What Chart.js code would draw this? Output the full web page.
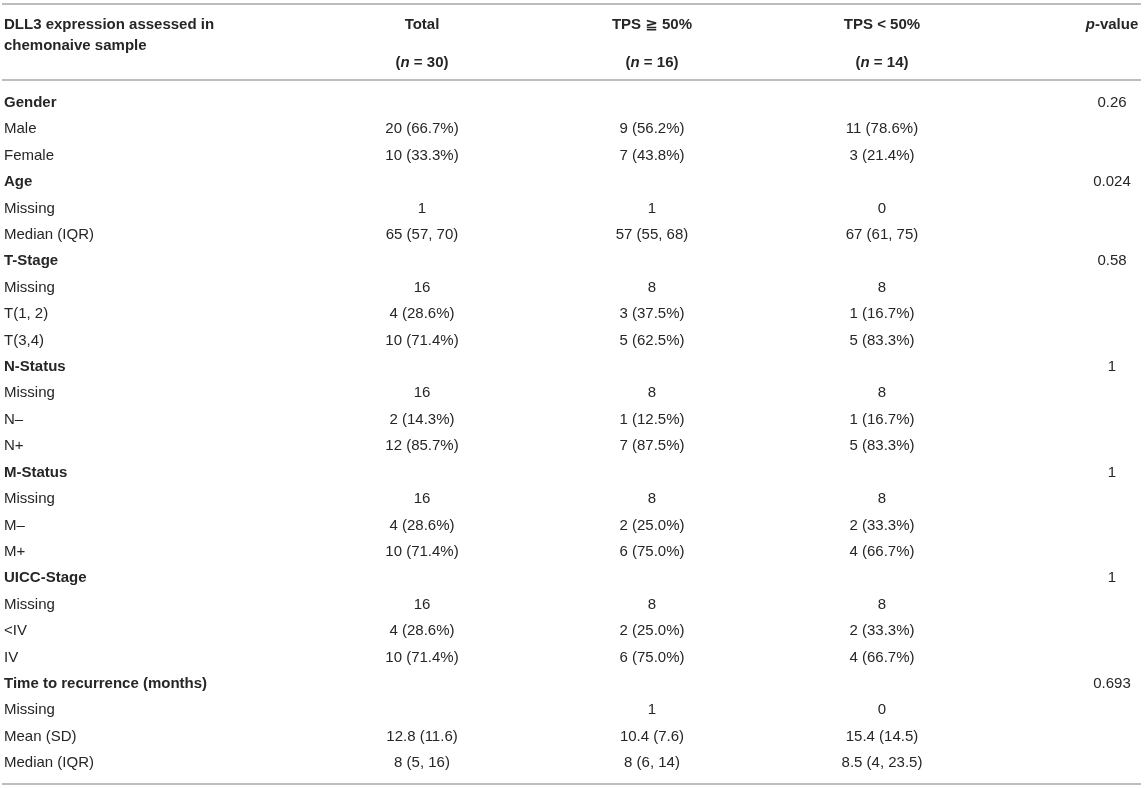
<!DOCTYPE html>
<html>
<head>
<meta charset="utf-8">
<script src="https://cdn.jsdelivr.net/npm/chart.js@4.4.1/dist/chart.umd.min.js"></script>
<style>
  html, body { margin: 0; padding: 0; background: #ffffff; overflow: hidden; }
  #wrap { width: 1145px; height: 788px; position: relative; }
  #c { display: block; width: 1145px; height: 788px; }
</style>
</head>
<body>
<div id="wrap"><canvas id="c" width="1145" height="788"></canvas></div>
<script>
// ---------- DATA ----------
const headerLabel = ['DLL3 expression assessed in', 'chemonaive sample'];
const columnTitles = ['Total', 'TPS \u2267 50%', 'TPS < 50%', '*p*-value'];
const columnCounts = ['(*n* = 30)', '(*n* = 16)', '(*n* = 14)', ''];

const rowLabels = [
  'Gender', 'Male', 'Female',
  'Age', 'Missing', 'Median (IQR)',
  'T-Stage', 'Missing', 'T(1, 2)', 'T(3,4)',
  'N-Status', 'Missing', 'N\u2013', 'N+',
  'M-Status', 'Missing', 'M\u2013', 'M+',
  'UICC-Stage', 'Missing', '<IV', 'IV',
  'Time to recurrence (months)', 'Missing', 'Mean (SD)', 'Median (IQR)'
];
const groupRows = [
  true, false, false,
  true, false, false,
  true, false, false, false,
  true, false, false, false,
  true, false, false, false,
  true, false, false, false,
  true, false, false, false
];
const totalValues = [
  '', '20 (66.7%)', '10 (33.3%)',
  '', '1', '65 (57, 70)',
  '', '16', '4 (28.6%)', '10 (71.4%)',
  '', '16', '2 (14.3%)', '12 (85.7%)',
  '', '16', '4 (28.6%)', '10 (71.4%)',
  '', '16', '4 (28.6%)', '10 (71.4%)',
  '', '', '12.8 (11.6)', '8 (5, 16)'
];
const tpsHighValues = [
  '', '9 (56.2%)', '7 (43.8%)',
  '', '1', '57 (55, 68)',
  '', '8', '3 (37.5%)', '5 (62.5%)',
  '', '8', '1 (12.5%)', '7 (87.5%)',
  '', '8', '2 (25.0%)', '6 (75.0%)',
  '', '8', '2 (25.0%)', '6 (75.0%)',
  '', '1', '10.4 (7.6)', '8 (6, 14)'
];
const tpsLowValues = [
  '', '11 (78.6%)', '3 (21.4%)',
  '', '0', '67 (61, 75)',
  '', '8', '1 (16.7%)', '5 (83.3%)',
  '', '8', '1 (16.7%)', '5 (83.3%)',
  '', '8', '2 (33.3%)', '4 (66.7%)',
  '', '8', '2 (33.3%)', '4 (66.7%)',
  '', '0', '15.4 (14.5)', '8.5 (4, 23.5)'
];
const pValues = [
  '0.26', '', '',
  '0.024', '', '',
  '0.58', '', '', '',
  '1', '', '', '',
  '1', '', '', '',
  '1', '', '', '',
  '0.693', '', '', ''
];

// ---------- LAYOUT (positions / styles, in scale units) ----------
const LAYOUT = {
  xMin: -1.8348, xMax: 3.1435,      // column index units
  yMin: -3.852, yMax: 25.996,       // row index units (reversed)
  labelX: -1.8174,
  ruleX: [-1.826, 3.126],
  rules: [-3.70, -0.822, 25.848],
  headLine1: -2.943, headLine2: -2.150, headCount: -1.505,
  font: "'Liberation Sans', Arial, Helvetica, 'DejaVu Sans', sans-serif",
  size: 15,
  color: '#262626',
  ruleColor: '#bdbdbd'
};

const valueColumns = [totalValues, tpsHighValues, tpsLowValues, pValues];

// build datasets: every cell is an (invisible) point placed by the scales
const datasets = [];
function addSet(points, texts, align, bold) {
  datasets.push({ data: points, texts: texts, align: align, bold: bold,
    pointRadius: 0, pointHoverRadius: 0, showLine: false });
}
{
  const pts = [], tx = [], bd = [];
  rowLabels.forEach((l, r) => { pts.push({ x: LAYOUT.labelX, y: r }); tx.push(l); bd.push(groupRows[r]); });
  addSet(pts, tx, 'left', bd);
}
addSet([{ x: LAYOUT.labelX, y: LAYOUT.headLine1 }, { x: LAYOUT.labelX, y: LAYOUT.headLine2 }],
  headerLabel, 'left', [true, true]);
{
  const pts = [], tx = [], bd = [];
  columnTitles.forEach((t, c) => { pts.push({ x: c, y: LAYOUT.headLine1 }); tx.push(t); bd.push(true); });
  columnCounts.forEach((t, c) => { if (t) { pts.push({ x: c, y: LAYOUT.headCount }); tx.push(t); bd.push(true); } });
  addSet(pts, tx, 'center', bd);
}
valueColumns.forEach((col, c) => {
  const pts = [], tx = [], bd = [];
  col.forEach((v, r) => { if (v !== '') { pts.push({ x: c, y: r }); tx.push(v); bd.push(false); } });
  addSet(pts, tx, 'center', bd);
});

function runs(text) {
  const parts = text.split('*');
  return parts.map((p, i) => ({ t: p, it: i % 2 === 1 })).filter(p => p.t.length);
}
function fontFor(bold, it) {
  return (it ? 'italic ' : '') + (bold ? 'bold ' : '') + LAYOUT.size + 'px ' + LAYOUT.font;
}

const tablePlugin = {
  id: 'tableText',
  beforeDatasetsDraw(chart) {
    const ctx = chart.ctx, xs = chart.scales.x, ys = chart.scales.y;
    ctx.save();
    ctx.strokeStyle = LAYOUT.ruleColor;
    ctx.lineWidth = 2;
    LAYOUT.rules.forEach(rv => {
      const y = ys.getPixelForValue(rv);
      ctx.beginPath();
      ctx.moveTo(xs.getPixelForValue(LAYOUT.ruleX[0]), y);
      ctx.lineTo(xs.getPixelForValue(LAYOUT.ruleX[1]), y);
      ctx.stroke();
    });
    ctx.restore();
  },
  afterDatasetsDraw(chart) {
    const ctx = chart.ctx;
    ctx.save();
    ctx.fillStyle = LAYOUT.color;
    ctx.textBaseline = 'alphabetic';
    chart.data.datasets.forEach((ds, di) => {
      const meta = chart.getDatasetMeta(di);
      meta.data.forEach((el, i) => {
        const bold = ds.bold[i];
        const rs = runs(ds.texts[i]);
        let w = 0;
        rs.forEach(r => { ctx.font = fontFor(bold, r.it); r.w = ctx.measureText(r.t).width; w += r.w; });
        let x = el.x;
        if (ds.align === 'center') x -= w / 2;
        else if (ds.align === 'right') x -= w;
        const y = el.y + LAYOUT.size * 0.36;
        rs.forEach(r => { ctx.font = fontFor(bold, r.it); ctx.fillText(r.t, x, y); x += r.w; });
      });
    });
    ctx.restore();
  }
};

new Chart(document.getElementById('c'), {
  type: 'scatter',
  data: { datasets: datasets },
  options: {
    responsive: false,
    animation: false,
    maintainAspectRatio: false,
    layout: { padding: 0 },
    events: [],
    plugins: { legend: { display: false }, tooltip: { enabled: false } },
    scales: {
      x: { type: 'linear', min: LAYOUT.xMin, max: LAYOUT.xMax, display: false },
      y: { type: 'linear', min: LAYOUT.yMin, max: LAYOUT.yMax, reverse: true, display: false }
    }
  },
  plugins: [tablePlugin]
});
</script>
</body>
</html>
